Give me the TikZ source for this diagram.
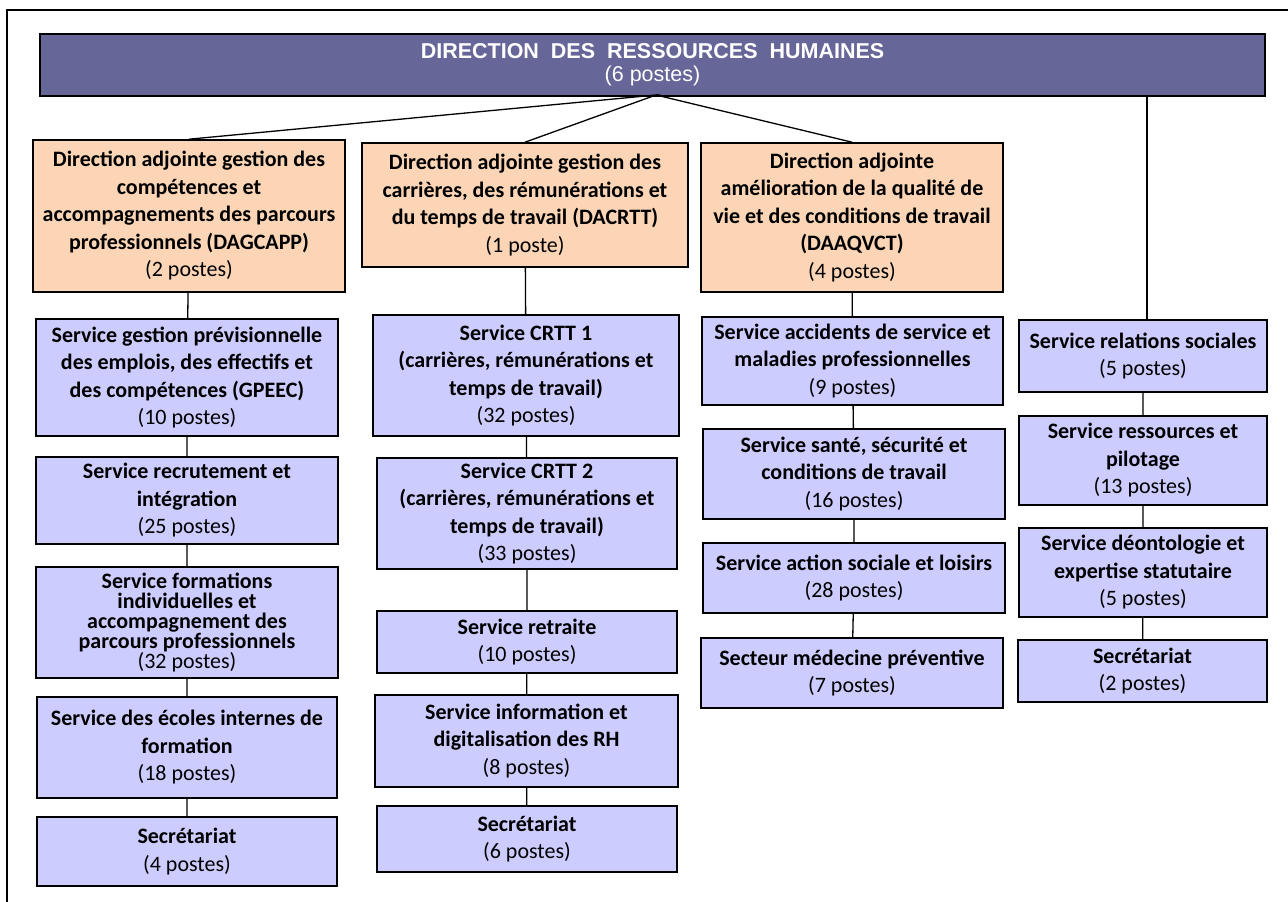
\documentclass[tikz,border=0pt]{standalone}
\usepackage{fontspec}
\setmainfont{Carlito}
\newfontfamily\headfont{Liberation Sans}
\definecolor{drhfill}{RGB}{102,102,153}
\definecolor{adjfill}{RGB}{251,213,181}
\definecolor{servfill}{RGB}{204,204,255}
\newcommand{\effectif}[1]{\\\mdseries(#1)}
\tikzset{
  unit/.style={draw=black, line width=1.6pt, align=center, inner sep=0pt, font=\fontsize{22}{27.5}\selectfont\bfseries},
  drhbox/.style={unit, fill=drhfill, text=white, font=\headfont\fontsize{21.5}{23}\selectfont},
  adjbox/.style={unit, fill=adjfill},
  servbox/.style={unit, fill=servfill},
  link/.style={line width=1.3pt},
}
\begin{document}
\begin{tikzpicture}[x=1pt, y=-1pt]
\useasboundingbox (0,0) rectangle (1288,902);
\draw[line width=2.8pt] (7,902) -- (7,10) -- (1288,10);

\node[drhbox, minimum width=1225, minimum height=62] (drh) at (652.5,65) {\textbf{DIRECTION\ \ DES\ \ RESSOURCES\ \ HUMAINES}\\(6 postes)};
\coordinate (jn) at (656,95);

% directions adjointes
\node[adjbox, minimum width=312, minimum height=152] (dagcapp) at (189,216) {Direction adjointe gestion des\\compétences et\\accompagnements des parcours\\professionnels (DAGCAPP)\effectif{2 postes}};
\node[adjbox, minimum width=326, minimum height=124] (dacrtt) at (525,205) {Direction adjointe gestion des\\carrières, des rémunérations et\\du temps de travail (DACRTT)\effectif{1 poste}};
\node[adjbox, minimum width=302, minimum height=149] (daaqvct) at (852,217.5) {Direction adjointe\\amélioration de la qualité de\\vie et des conditions de travail\\(DAAQVCT)\effectif{4 postes}};

% DAGCAPP
\node[servbox, minimum width=302, minimum height=117] (gpeec) at (187,377.5) {Service gestion prévisionnelle\\des emplois, des effectifs et\\des compétences (GPEEC)\effectif{10 postes}};
\node[servbox, minimum width=302, minimum height=87] (recrut) at (187,500.5) {Service recrutement et\\intégration\effectif{25 postes}};
\node[servbox, minimum width=302, minimum height=111, font=\fontsize{22}{20}\selectfont\bfseries] (formind) at (187,622.5) {Service formations\\individuelles et\\accompagnement des\\parcours professionnels\effectif{32 postes}};
\node[servbox, minimum width=300, minimum height=101] (ecoles) at (187,747.5) {Service des écoles internes de\\formation\effectif{18 postes}};
\node[servbox, minimum width=300, minimum height=69] (secr1) at (187,851.5) {Secrétariat\effectif{4 postes}};

% DACRTT
\node[servbox, minimum width=306, minimum height=121] (crtt1) at (526,375.5) {Service CRTT 1\\(carrières, rémunérations et\\temps de travail)\effectif{32 postes}};
\node[servbox, minimum width=300, minimum height=111] (crtt2) at (527,513.5) {Service CRTT 2\\(carrières, rémunérations et\\temps de travail)\effectif{33 postes}};
\node[servbox, minimum width=300, minimum height=62] (retraite) at (527,642) {Service retraite\effectif{10 postes}};
\node[servbox, minimum width=303, minimum height=92] (digit) at (526.5,741) {Service information et\\digitalisation des RH\effectif{8 postes}};
\node[servbox, minimum width=300, minimum height=66] (secr2) at (527,839) {Secrétariat\effectif{6 postes}};

% DAAQVCT
\node[servbox, minimum width=301, minimum height=88] (accid) at (852.5,361) {Service accidents de service et\\maladies professionnelles\effectif{9 postes}};
\node[servbox, minimum width=302, minimum height=90] (sante) at (854,474) {Service santé, sécurité et\\conditions de travail\effectif{16 postes}};
\node[servbox, minimum width=302, minimum height=70] (action) at (854,578) {Service action sociale et loisirs\effectif{28 postes}};
\node[servbox, minimum width=302, minimum height=70] (medecine) at (852,673) {Secteur médecine préventive\effectif{7 postes}};

% rattachés à la direction
\node[servbox, minimum width=248, minimum height=72] (relsoc) at (1143,356) {Service relations sociales\effectif{5 postes}};
\node[servbox, minimum width=248, minimum height=89] (pilotage) at (1143,460.5) {Service ressources et\\pilotage\effectif{13 postes}};
\node[servbox, minimum width=248, minimum height=89] (deonto) at (1143,572.5) {Service déontologie et\\expertise statutaire\effectif{5 postes}};
\node[servbox, minimum width=249, minimum height=62] (secr4) at (1142.5,671) {Secrétariat\effectif{2 postes}};

\draw[link] (dagcapp.north) -- (jn) -- (dacrtt.north);
\draw[link] (jn) -- (daaqvct.north);
\draw[link] ([xshift=4]relsoc.north) -- ([xshift=4]relsoc.north |- drh.south);

\draw[link] (dagcapp) -- (gpeec) -- (recrut) -- (formind) -- (ecoles) -- (secr1);
\draw[link] (dacrtt) -- (crtt1) -- (crtt2) -- (retraite) -- (digit) -- (secr2);
\draw[link] (daaqvct) -- (accid) -- (sante) -- (action) -- (medecine);
\draw[link] (relsoc) -- (pilotage) -- (deonto) -- (secr4);
\end{tikzpicture}
\end{document}
